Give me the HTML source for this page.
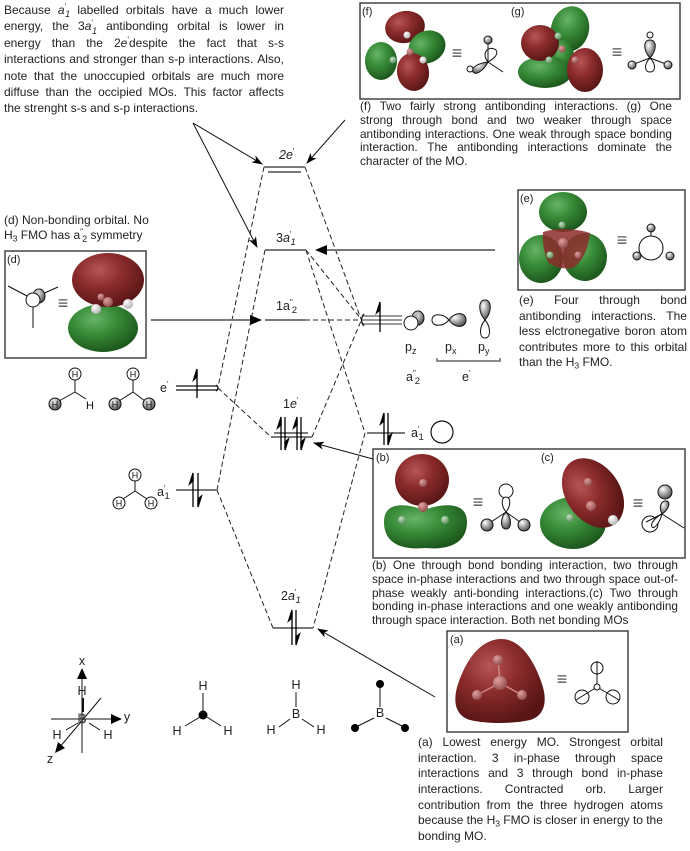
<!DOCTYPE html>
<html><head><meta charset="utf-8">
<style>
html,body{margin:0;padding:0;background:#fff}
#w{position:relative;width:690px;height:851px;overflow:hidden;font-family:"Liberation Sans",Arial,sans-serif;color:#222;background:#fff}
svg{position:absolute;left:0;top:0}
.p{position:absolute}
.p>div{display:flex;justify-content:space-between;white-space:nowrap}
.p>div.l{display:block}
.sp{font-size:0.72em;vertical-align:0.5em;line-height:0}
.sb{font-size:0.75em;vertical-align:-0.35em;margin-left:-0.12em;line-height:0}
.s3{font-size:0.72em;vertical-align:-0.3em;line-height:0}
#t1>div{height:16.4px}
#t2>div{height:14.5px}
#t3>div{height:13.8px}
#t4>div{height:15.6px}
#t5>div{height:13.8px}
#t6>div{height:15.7px}
</style></head><body><div id="w">
<svg width="690" height="851" viewBox="0 0 690 851" font-family="Liberation Sans, Arial, sans-serif">
<defs>
<radialGradient id="rg" cx="38%" cy="32%" r="70%"><stop offset="0" stop-color="#b85656"/><stop offset="0.45" stop-color="#8c2c2c"/><stop offset="1" stop-color="#581515"/></radialGradient>
<radialGradient id="gg" cx="38%" cy="32%" r="70%"><stop offset="0" stop-color="#68b468"/><stop offset="0.45" stop-color="#388c38"/><stop offset="1" stop-color="#1c561c"/></radialGradient>
<radialGradient id="sg" cx="35%" cy="30%" r="75%"><stop offset="0" stop-color="#ffffff"/><stop offset="1" stop-color="#4a4a4a"/></radialGradient>
<radialGradient id="wb" cx="35%" cy="30%" r="75%"><stop offset="0" stop-color="#ffffff"/><stop offset="1" stop-color="#b0b0b0"/></radialGradient>
<radialGradient id="pb" cx="35%" cy="30%" r="75%"><stop offset="0" stop-color="#e0a0a0"/><stop offset="1" stop-color="#904a4a"/></radialGradient>
<radialGradient id="gb" cx="35%" cy="30%" r="75%"><stop offset="0" stop-color="#c0e0c0"/><stop offset="1" stop-color="#5a8a5a"/></radialGradient>
<marker id="ah" markerWidth="11" markerHeight="8" refX="10" refY="4" orient="auto" markerUnits="userSpaceOnUse"><path d="M0,0 L11,4 L0,8 L3,4 Z" fill="#000"/></marker>
</defs>

<g fill="none" stroke="#444" stroke-width="1.5">
<rect x="360" y="3" width="320" height="96"/>
<rect x="518" y="190" width="167" height="100"/>
<rect x="5" y="251" width="141" height="107"/>
<rect x="373" y="449" width="312" height="109"/>
<rect x="447" y="631" width="181" height="101"/>
</g>

<g stroke="#222" stroke-width="1" stroke-dasharray="5,3" fill="none">
<line x1="264" y1="167" x2="218" y2="387"/>
<line x1="305" y1="167" x2="361" y2="319"/>
<line x1="265" y1="250" x2="217" y2="490"/>
<line x1="306" y1="250" x2="361" y2="319"/>
<line x1="306" y1="250" x2="365" y2="433"/>
<line x1="305" y1="320" x2="361" y2="320"/>
<line x1="218" y1="388" x2="271" y2="437"/>
<line x1="312" y1="437" x2="361" y2="321"/>
<line x1="217" y1="490" x2="273" y2="628"/>
<line x1="365" y1="433" x2="313" y2="628"/>
</g>

<g stroke="#7a7a7a" stroke-width="2">
<line x1="264" y1="167" x2="305" y2="167"/>
<line x1="268" y1="172" x2="301" y2="172"/>
<line x1="265" y1="250" x2="306" y2="250"/>
<line x1="265" y1="320" x2="305" y2="320"/>
<line x1="271" y1="437" x2="312" y2="437"/>
<line x1="274" y1="433" x2="308" y2="433"/>
<line x1="176" y1="490" x2="217" y2="490"/>
<line x1="367" y1="433" x2="405" y2="433"/>
<line x1="273" y1="628" x2="313" y2="628"/>
</g>
<g stroke="#7a7a7a" stroke-width="1.6">
<line x1="362" y1="316" x2="402" y2="316"/>
<line x1="362" y1="320" x2="402" y2="320"/>
<line x1="362" y1="324" x2="402" y2="324"/>
</g>
<g stroke="#111" stroke-width="1.3" fill="none">
<line x1="176" y1="386" x2="218" y2="386"/>
<line x1="176" y1="390" x2="218" y2="390"/>
<path d="M216,385 Q220,388 216,391"/>
<path d="M364,314 Q359,320 364,326"/>
</g>

<g stroke="#7a7a7a" stroke-width="2">
<line x1="151" y1="320" x2="253" y2="320"/>
<line x1="495" y1="250" x2="324" y2="250"/>
</g>
<path d="M262,320 L250,315 L250,325 Z" fill="#000"/>
<path d="M315,250 L327,245 L327,255 Z" fill="#000"/>

<g stroke="#111" stroke-width="1" marker-end="url(#ah)">
<line x1="193" y1="123" x2="262" y2="164"/>
<line x1="193" y1="123" x2="257" y2="247"/>
<line x1="345" y1="120" x2="307" y2="163"/>
<line x1="373" y1="459" x2="314" y2="443"/>
<line x1="435" y1="697" x2="318" y2="629"/>
</g>

<g stroke="#000" stroke-width="1.3" fill="#000">
<line x1="197" y1="371" x2="197" y2="398"/><path d="M197,369 L193.5,380 L197,377 Z"/>
<line x1="193" y1="475" x2="193" y2="507"/><path d="M193,473 L189.5,484 L193,481 Z"/>
<line x1="198" y1="473" x2="198" y2="505"/><path d="M198,507 L201.5,496 L198,499 Z"/>
<line x1="281" y1="419" x2="281" y2="450"/><path d="M281,417 L277.5,428 L281,425 Z"/>
<line x1="285" y1="417" x2="285" y2="448"/><path d="M285,450 L288.5,439 L285,442 Z"/>
<line x1="297" y1="419" x2="297" y2="450"/><path d="M297,417 L293.5,428 L297,425 Z"/>
<line x1="301" y1="417" x2="301" y2="448"/><path d="M301,450 L304.5,439 L301,442 Z"/>
<line x1="380" y1="304" x2="380" y2="332"/><path d="M380,302 L376.5,313 L380,310 Z"/>
<line x1="384" y1="415" x2="384" y2="445"/><path d="M384,413 L380.5,424 L384,421 Z"/>
<line x1="388" y1="413" x2="388" y2="443"/><path d="M388,445 L391.5,434 L388,437 Z"/>
<line x1="292" y1="612" x2="292" y2="645"/><path d="M292,610 L288.5,621 L292,618 Z"/>
<line x1="296" y1="610" x2="296" y2="643"/><path d="M296,645 L299.5,634 L296,637 Z"/>
</g>

<g font-size="12.5" fill="#222">
<text x="279" y="159"><tspan font-style="italic">2e</tspan><tspan dy="-5" font-size="8">'</tspan></text>
<text x="276" y="242">3<tspan font-style="italic">a</tspan><tspan dy="-5" font-size="8">'</tspan><tspan dy="8" dx="-1" font-size="9.5" font-style="italic">1</tspan></text>
<text x="276" y="310">1a<tspan dy="-5" font-size="8">"</tspan><tspan dy="8" dx="-1" font-size="9.5">2</tspan></text>
<text x="283" y="408">1<tspan font-style="italic">e</tspan><tspan dy="-5" font-size="8">'</tspan></text>
<text x="281" y="600">2<tspan font-style="italic">a</tspan><tspan dy="-5" font-size="8">'</tspan><tspan dy="8" dx="-1" font-size="9.5" font-style="italic">1</tspan></text>
<text x="160" y="392">e<tspan dy="-5" font-size="8">'</tspan></text>
<text x="157" y="496">a<tspan dy="-5" font-size="8">'</tspan><tspan dy="8" dx="-1" font-size="9.5">1</tspan></text>
<text x="411" y="437">a<tspan dy="-5" font-size="8">'</tspan><tspan dy="8" dx="-1" font-size="9.5">1</tspan></text>
<text x="405" y="351">p<tspan dy="3" font-size="9">z</tspan></text>
<text x="445" y="351">p<tspan dy="3" font-size="9">x</tspan></text>
<text x="478" y="351">p<tspan dy="3" font-size="9">y</tspan></text>
<text x="406" y="381">a<tspan dy="-5" font-size="8">"</tspan><tspan dy="8" dx="-1" font-size="9.5">2</tspan></text>
<text x="462" y="381">e<tspan dy="-5" font-size="8">'</tspan></text>
</g>
<circle cx="442" cy="432" r="11" fill="none" stroke="#111" stroke-width="1.2"/>

<g stroke="#111" stroke-width="1">
<ellipse cx="418" cy="318" rx="6" ry="7" fill="url(#sg)"/>
<path d="M412,316 L418,311 L418,325 L412,330 Z" fill="#bbb" stroke="none"/>
<circle cx="411" cy="323" r="7" fill="#fff"/>
<path d="M449,320 C443,313 432,313 432,320 C432,327 443,327 449,320 Z" fill="#fff"/>
<path d="M449,320 C455,311 466,312 466,320 C466,328 455,329 449,320 Z" fill="url(#sg)"/>
<path d="M485,320 C478,312 478,300 485,300 C492,300 492,312 485,320 Z" fill="url(#sg)"/>
<path d="M485,320 C479,327 479,338 485,338 C491,338 491,327 485,320 Z" fill="#fff"/>
</g>
<path d="M437,358 L437,361 L500,361 L500,358" fill="none" stroke="#666" stroke-width="1.5"/>

<g stroke="#111" stroke-width="1" fill="none">
<line x1="75" y1="380" x2="75" y2="392"/><line x1="75" y1="392" x2="59" y2="401"/><line x1="75" y1="392" x2="86" y2="399"/>
<line x1="133" y1="380" x2="133" y2="392"/><line x1="133" y1="392" x2="119" y2="401"/><line x1="133" y1="392" x2="145" y2="401"/>
<line x1="135" y1="481" x2="135" y2="491"/><line x1="135" y1="491" x2="123" y2="499"/><line x1="135" y1="491" x2="147" y2="499"/>
<circle cx="75" cy="374" r="6" fill="#fff"/>
<circle cx="55" cy="404" r="6" fill="url(#sg)"/>
<circle cx="133" cy="374" r="6" fill="#fff"/>
<circle cx="115" cy="404" r="6" fill="url(#sg)"/>
<circle cx="149" cy="404" r="6" fill="url(#sg)"/>
<circle cx="135" cy="475" r="6" fill="#fff"/>
<circle cx="119" cy="503" r="6" fill="#fff"/>
<circle cx="151" cy="503" r="6" fill="#fff"/>
</g>
<g font-size="9" fill="#111" text-anchor="middle">
<text x="75" y="377.5">H</text><text x="55" y="407.5">H</text><text x="133" y="377.5">H</text>
<text x="115" y="407.5">H</text><text x="149" y="407.5">H</text>
<text x="135" y="478.5">H</text><text x="119" y="506.5">H</text><text x="151" y="506.5">H</text>
</g>
<text x="90" y="409" font-size="11" fill="#111" text-anchor="middle">H</text>

<g stroke="#111" stroke-width="1" fill="none">
<line x1="82" y1="753" x2="82" y2="674"/>
<line x1="51" y1="719" x2="116" y2="719"/>
<line x1="101" y1="698" x2="59" y2="748"/>
<line x1="83" y1="698" x2="83" y2="712" stroke-width="2"/>
<line x1="66" y1="730" x2="78" y2="723"/>
<line x1="89" y1="723" x2="100" y2="730"/>
<line x1="203" y1="693" x2="203" y2="711"/><line x1="185" y1="726" x2="200" y2="717"/><line x1="207" y1="717" x2="221" y2="726"/>
<line x1="296" y1="692" x2="296" y2="707"/><line x1="279" y1="727" x2="290" y2="719"/><line x1="302" y1="719" x2="314" y2="727"/>
<line x1="380" y1="688" x2="380" y2="707"/><line x1="358" y1="726" x2="374" y2="718"/><line x1="386" y1="718" x2="402" y2="726"/>
</g>
<g fill="#000">
<path d="M82,668 L77,679 L87,679 Z"/>
<path d="M122,719 L111,714 L111,724 Z"/>
<path d="M55,753 L58,742 L65,748 Z"/>
<circle cx="203" cy="715" r="4.5"/>
<circle cx="380" cy="684" r="4"/>
<circle cx="355" cy="728" r="4"/>
<circle cx="405" cy="728" r="4"/>
</g>
<g font-size="12.5" fill="#222" text-anchor="middle">
<text x="82" y="665">x</text>
<text x="127" y="721">y</text>
<text x="50" y="763">z</text>
<text x="82" y="695">H</text>
<text x="82" y="723" fill="none" stroke="#333" stroke-width="0.8">B</text>
<text x="57" y="739">H</text>
<text x="108" y="739">H</text>
<text x="203" y="690">H</text>
<text x="177" y="735">H</text>
<text x="228" y="735">H</text>
<text x="296" y="689">H</text>
<text x="296" y="718">B</text>
<text x="271" y="734">H</text>
<text x="321" y="734">H</text>
<text x="380" y="717">B</text>
</g>

<g font-size="11" fill="#222">
<text x="362" y="15">(f)</text>
<text x="511" y="15">(g)</text>
<text x="520" y="202">(e)</text>
<text x="7" y="263">(d)</text>
<text x="376" y="461">(b)</text>
<text x="541" y="461">(c)</text>
<text x="450" y="643">(a)</text>
</g>
<g font-size="18" fill="#555" text-anchor="middle">
<text x="457" y="59">≡</text>
<text x="617" y="58">≡</text>
<text x="622" y="246">≡</text>
<text x="63" y="309">≡</text>
<text x="478" y="508">≡</text>
<text x="638" y="509">≡</text>
<text x="562" y="685">≡</text>
</g>

<ellipse cx="405" cy="27" rx="20" ry="16" fill="url(#rg)" transform="rotate(-10 405 27)"/>
<ellipse cx="427" cy="47" rx="19" ry="16" fill="url(#gg)" transform="rotate(-25 427 47)"/>
<ellipse cx="381" cy="61" rx="16" ry="19" fill="url(#gg)"/>
<ellipse cx="413" cy="72" rx="16" ry="19" fill="url(#rg)" transform="rotate(-10 413 72)"/>
<circle cx="407" cy="35" r="3.5" fill="url(#wb)"/>
<circle cx="410" cy="52" r="3.5" fill="url(#pb)"/>
<circle cx="393" cy="60" r="3.5" fill="url(#gb)"/>
<circle cx="423" cy="60" r="3.5" fill="url(#wb)"/>
<g stroke="#111" stroke-width="1">
<line x1="488" y1="44" x2="488" y2="62"/>
<line x1="488" y1="62" x2="503" y2="72"/>
<line x1="472" y1="69" x2="488" y2="62"/>
<path d="M488,62 C480,52 490,45 496,50 C499,55 493,59 488,62 Z" fill="none"/>
<path d="M488,62 C484,70 476,76 473,72 C470,67 480,63 488,62 Z" fill="url(#sg)"/>
<circle cx="488" cy="40" r="4" fill="url(#sg)"/>
<circle cx="470" cy="69" r="3" fill="#fff"/>
</g>

<ellipse cx="570" cy="29" rx="19" ry="23" fill="url(#gg)" transform="rotate(15 570 29)"/>
<ellipse cx="562" cy="56" rx="12" ry="16" fill="url(#gg)"/>
<ellipse cx="545" cy="72" rx="27" ry="16" fill="url(#gg)"/>
<ellipse cx="540" cy="43" rx="19" ry="18" fill="url(#rg)"/>
<ellipse cx="585" cy="70" rx="18" ry="22" fill="url(#rg)"/>
<circle cx="558" cy="36" r="3.5" fill="url(#gb)"/>
<circle cx="562" cy="49" r="3.5" fill="url(#pb)"/>
<circle cx="549" cy="60" r="3.5" fill="url(#gb)"/>
<circle cx="575" cy="60" r="3.5" fill="url(#pb)"/>
<g stroke="#111" stroke-width="1">
<line x1="650" y1="58" x2="634" y2="64"/>
<line x1="650" y1="58" x2="666" y2="64"/>
<path d="M650,58 C643,50 643,40 650,40 C657,40 657,50 650,58 Z" fill="url(#sg)"/>
<path d="M650,58 C644,64 644,72 650,72 C656,72 656,64 650,58 Z" fill="#fff"/>
<circle cx="650" cy="35" r="3" fill="#fff"/>
<circle cx="632" cy="65" r="4" fill="url(#sg)"/>
<circle cx="668" cy="65" r="4" fill="url(#sg)"/>
</g>

<ellipse cx="563" cy="212" rx="24" ry="20" fill="url(#gg)"/>
<ellipse cx="541" cy="259" rx="22" ry="24" fill="url(#gg)"/>
<ellipse cx="585" cy="257" rx="22" ry="24" fill="url(#gg)"/>
<path d="M543,232 C555,228 575,228 590,233 C588,250 582,262 573,268 C563,270 552,266 548,262 C544,252 542,242 543,232 Z" fill="#8c2c2c" opacity="0.85"/>
<circle cx="563" cy="243" r="5" fill="url(#pb)"/>
<circle cx="562" cy="225" r="3.5" fill="url(#gb)"/>
<circle cx="550" cy="255" r="3.5" fill="url(#gb)"/>
<circle cx="578" cy="255" r="3.5" fill="url(#pb)"/>
<g stroke="#111" stroke-width="1">
<circle cx="651" cy="248" r="12" fill="none"/>
<line x1="651" y1="232" x2="651" y2="236"/>
<circle cx="651" cy="228" r="4" fill="url(#sg)"/>
<circle cx="637" cy="256" r="4" fill="url(#sg)"/>
<circle cx="670" cy="256" r="4" fill="url(#sg)"/>
</g>

<ellipse cx="103" cy="328" rx="35" ry="24" fill="url(#gg)"/>
<ellipse cx="108" cy="280" rx="36" ry="27" fill="url(#rg)"/>
<circle cx="96" cy="309" r="5" fill="url(#wb)"/>
<circle cx="108" cy="302" r="5" fill="url(#pb)"/>
<circle cx="128" cy="304" r="5" fill="url(#wb)"/>
<circle cx="101" cy="297" r="3.5" fill="url(#pb)"/>
<g stroke="#111" stroke-width="1">
<line x1="8" y1="286" x2="27" y2="296"/>
<line x1="40" y1="295" x2="58" y2="287"/>
<line x1="33" y1="307" x2="33" y2="328"/>
<ellipse cx="39" cy="296" rx="6" ry="7" fill="url(#sg)"/>
<path d="M33,293 L39,289 L39,303 L33,307 Z" fill="#ccc" stroke="none"/>
<circle cx="33" cy="300" r="7" fill="#fff"/>
</g>

<ellipse cx="422" cy="480" rx="27" ry="26" fill="url(#rg)"/>
<path d="M384,522 C384,500 408,504 424,510 C440,504 467,500 467,522 C467,545 446,550 425,548 C404,550 384,545 384,522 Z" fill="url(#gg)"/>
<circle cx="423" cy="483" r="4" fill="url(#pb)"/>
<circle cx="423" cy="507" r="5" fill="url(#pb)"/>
<circle cx="402" cy="520" r="4" fill="url(#gb)"/>
<circle cx="445" cy="520" r="4" fill="url(#gb)"/>
<g stroke="#111" stroke-width="1">
<line x1="506" y1="512" x2="491" y2="522"/>
<line x1="506" y1="512" x2="520" y2="522"/>
<circle cx="506" cy="491" r="7" fill="#fff"/>
<path d="M506,512 C500,504 502,497 506,497 C510,497 512,504 506,512 Z" fill="#fff"/>
<path d="M506,512 C500,518 500,529 506,529 C512,529 512,518 506,512 Z" fill="url(#sg)"/>
<circle cx="487" cy="525" r="6" fill="url(#sg)"/>
<circle cx="524" cy="525" r="6" fill="url(#sg)"/>
</g>

<ellipse cx="573" cy="523" rx="33" ry="26" fill="url(#gg)"/>
<ellipse cx="593" cy="493" rx="27" ry="38" fill="url(#rg)" transform="rotate(-35 593 493)"/>
<circle cx="588" cy="482" r="4" fill="url(#pb)"/>
<circle cx="591" cy="506" r="5" fill="url(#pb)"/>
<circle cx="570" cy="518" r="4" fill="url(#gb)"/>
<circle cx="613" cy="520" r="5" fill="url(#wb)"/>
<g stroke="#111" stroke-width="1">
<line x1="662" y1="514" x2="684" y2="528"/>
<line x1="662" y1="514" x2="646" y2="522"/>
<circle cx="650" cy="524" r="8" fill="none"/>
<path d="M662,514 C658,506 662,500 667,501 C671,503 668,510 662,514 Z" fill="url(#sg)"/>
<path d="M662,514 C660,522 654,530 652,527 C650,523 656,517 662,514 Z" fill="#fff"/>
<circle cx="665" cy="492" r="7" fill="url(#sg)"/>
</g>

<path d="M500,639 C520,638 534,660 542,684 C548,702 544,716 530,720 C512,724 488,724 470,720 C456,716 452,702 458,684 C466,660 480,640 500,639 Z" fill="url(#rg)"/>
<g stroke="#c88" stroke-width="1.5">
<line x1="500" y1="683" x2="498" y2="660"/>
<line x1="500" y1="683" x2="477" y2="695"/>
<line x1="500" y1="683" x2="522" y2="695"/>
</g>
<circle cx="500" cy="683" r="7" fill="url(#pb)"/>
<circle cx="498" cy="660" r="5" fill="url(#pb)"/>
<circle cx="477" cy="695" r="5" fill="url(#pb)"/>
<circle cx="522" cy="695" r="5" fill="url(#pb)"/>
<g stroke="#111" stroke-width="1" fill="#fff">
<line x1="597" y1="661" x2="597" y2="684"/>
<line x1="597" y1="687" x2="576" y2="700"/>
<line x1="597" y1="687" x2="619" y2="700"/>
<circle cx="597" cy="668" r="6" fill="none"/>
<circle cx="582" cy="697" r="7" fill="none"/>
<circle cx="613" cy="697" r="7" fill="none"/>
<circle cx="597" cy="687" r="3"/>
</g>
</svg>

<div class="p" id="t1" style="left:4px;top:2px;width:280px;font-size:12px;line-height:16.4px">
<div><span>Because</span><span><i>a</i><span class="sp">'</span><span class="sb"><i>1</i></span></span><span>labelled</span><span>orbitals</span><span>have</span><span>a</span><span>much</span><span>lower</span></div>
<div><span>energy,</span><span>the</span><span>3<i>a</i><span class="sp">'</span><span class="sb"><i>1</i></span></span><span>antibonding</span><span>orbital</span><span>is</span><span>lower</span><span>in</span></div>
<div><span>energy</span><span>than</span><span>the</span><span>2<i>e</i><span class="sp">'</span>despite</span><span>the</span><span>fact</span><span>that</span><span>s-s</span></div>
<div><span>interactions</span><span>and</span><span>stronger</span><span>than</span><span>s-p</span><span>interactions.</span><span>Also,</span></div>
<div><span>note</span><span>that</span><span>the</span><span>unoccupied</span><span>orbitals</span><span>are</span><span>much</span><span>more</span></div>
<div><span>diffuse</span><span>than</span><span>the</span><span>occipied</span><span>MOs.</span><span>This</span><span>factor</span><span>affects</span></div>
<div class="l">the strenght s-s and s-p interactions.</div>
</div>

<div class="p" id="t2" style="left:4px;top:213px;font-size:12px;line-height:14.5px">
<div class="l">(d) Non-bonding orbital. No</div>
<div class="l">H<span class="s3">3</span> FMO has a<span class="sp">"</span><span class="sb">2</span> symmetry</div>
</div>

<div class="p" id="t3" style="left:360px;top:100px;width:312px;font-size:11.8px;line-height:13.8px">
<div><span>(f)</span><span>Two</span><span>fairly</span><span>strong</span><span>antibonding</span><span>interactions.</span><span>(g)</span><span>One</span></div>
<div><span>strong</span><span>through</span><span>bond</span><span>and</span><span>two</span><span>weaker</span><span>through</span><span>space</span></div>
<div><span>antibonding</span><span>interactions.</span><span>One</span><span>weak</span><span>through</span><span>space</span><span>bonding</span></div>
<div><span>interaction.</span><span>The</span><span>antibonding</span><span>interactions</span><span>dominate</span><span>the</span></div>
<div class="l">character of the MO.</div>
</div>

<div class="p" id="t4" style="left:519px;top:293px;width:168px;font-size:12px;line-height:15.6px">
<div><span>(e)</span><span>Four</span><span>through</span><span>bond</span></div>
<div><span>antibonding</span><span>interactions.</span><span>The</span></div>
<div><span>less</span><span>elctronegative</span><span>boron</span><span>atom</span></div>
<div><span>contributes</span><span>more</span><span>to</span><span>this</span><span>orbital</span></div>
<div class="l">than the H<span class="s3">3</span> FMO.</div>
</div>

<div class="p" id="t5" style="left:372px;top:559px;width:306px;font-size:11.8px;line-height:13.8px">
<div><span>(b)</span><span>One</span><span>through</span><span>bond</span><span>bonding</span><span>interaction,</span><span>two</span><span>through</span></div>
<div><span>space</span><span>in-phase</span><span>interactions</span><span>and</span><span>two</span><span>through</span><span>space</span><span>out-of-</span></div>
<div><span>phase</span><span>weakly</span><span>anti-bonding</span><span>interactions.(c)</span><span>Two</span><span>through</span></div>
<div><span>bonding</span><span>in-phase</span><span>interactions</span><span>and</span><span>one</span><span>weakly</span><span>antibonding</span></div>
<div class="l">through space interaction. Both net bonding MOs</div>
</div>

<div class="p" id="t6" style="left:418px;top:735px;width:245px;font-size:12px;line-height:15.7px">
<div><span>(a)</span><span>Lowest</span><span>energy</span><span>MO.</span><span>Strongest</span><span>orbital</span></div>
<div><span>interaction.</span><span>3</span><span>in-phase</span><span>through</span><span>space</span></div>
<div><span>interactions</span><span>and</span><span>3</span><span>through</span><span>bond</span><span>in-phase</span></div>
<div><span>interactions.</span><span>Contracted</span><span>orb.</span><span>Larger</span></div>
<div><span>contribution</span><span>from</span><span>the</span><span>three</span><span>hydrogen</span><span>atoms</span></div>
<div><span>because</span><span>the</span><span>H<span class="s3">3</span></span><span>FMO</span><span>is</span><span>closer</span><span>in</span><span>energy</span><span>to</span><span>the</span></div>
<div class="l">bonding MO.</div>
</div>

</div></body></html>
